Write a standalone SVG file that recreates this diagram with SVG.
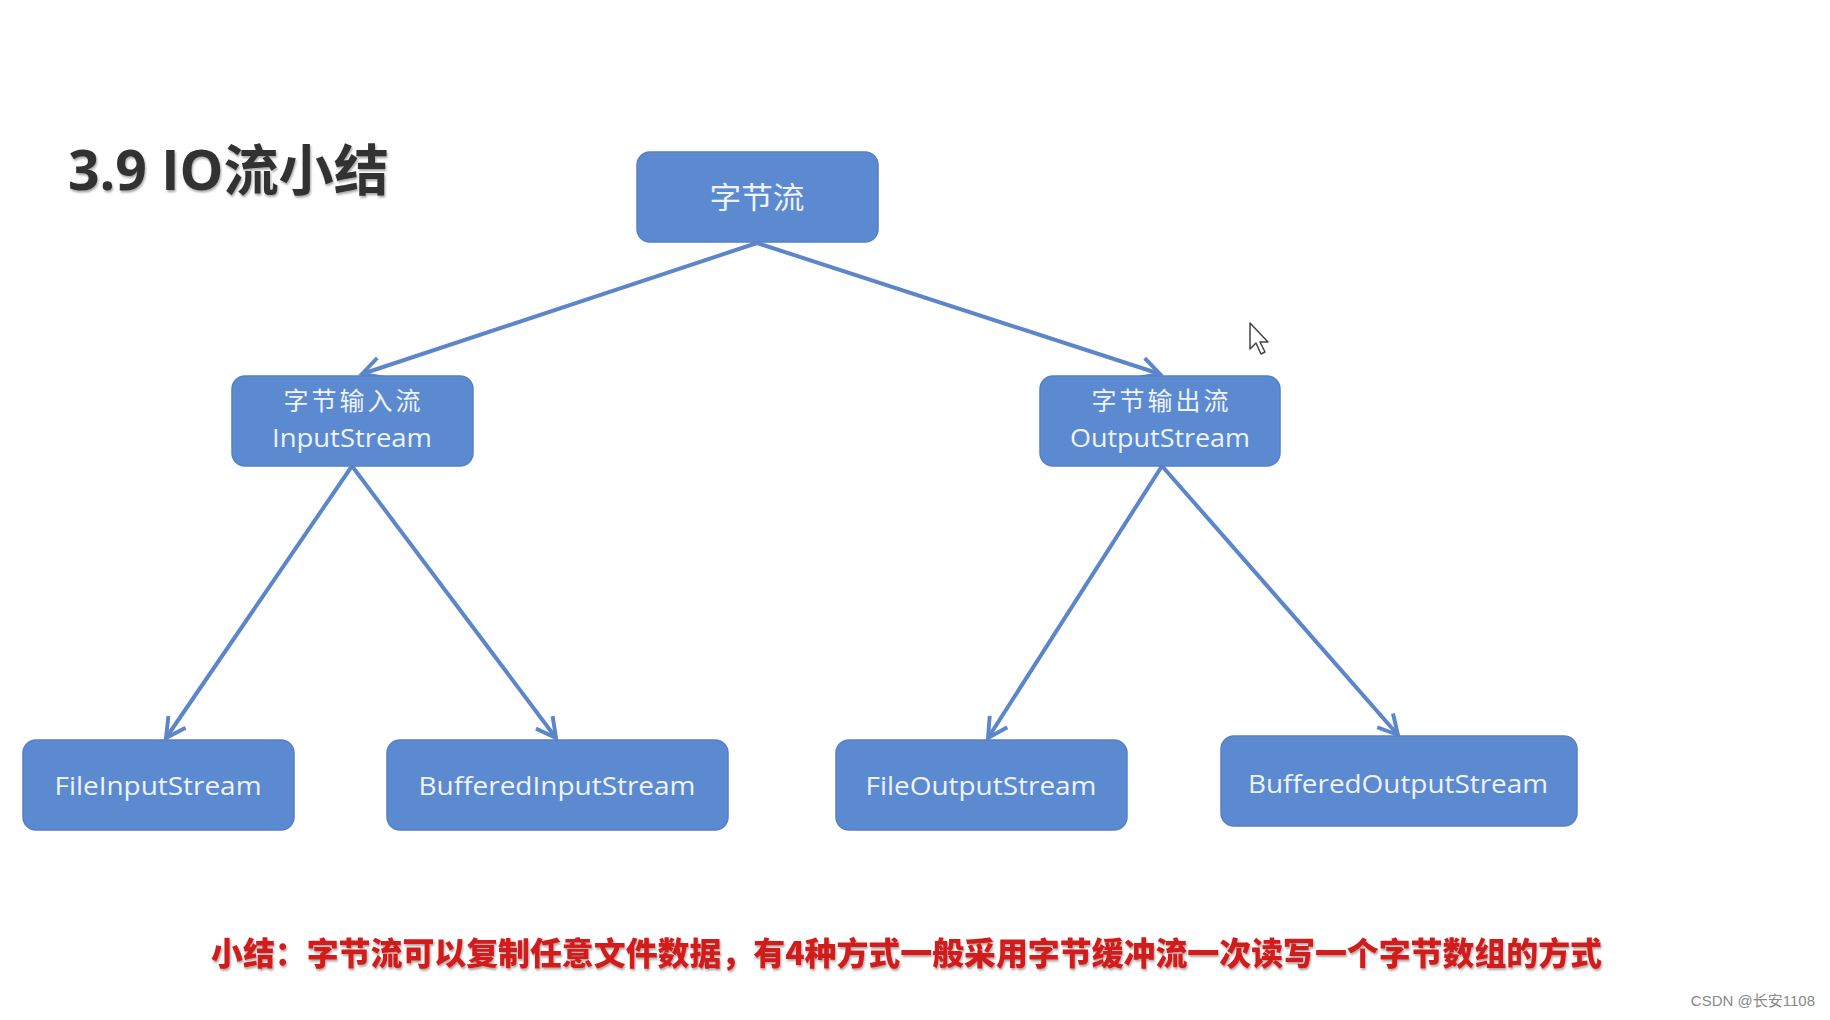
<svg xmlns="http://www.w3.org/2000/svg" width="1830" height="1020" viewBox="0 0 1830 1020">
<defs>
<style>
.node rect{fill:#5b8ad0;stroke:#5580c4;stroke-width:1.5}
.nt{font-family:"Open Sans","Noto Sans CJK SC",sans-serif;fill:#eef3fb;text-anchor:middle}
.cn{font-family:"Noto Sans CJK SC",sans-serif;fill:#eef3fb;text-anchor:middle}
.conn line{stroke:#5b86c9;stroke-width:4;marker-end:url(#arr)}
</style>
<marker id="arr" viewBox="0 0 20 20" refX="17" refY="10" markerWidth="6.5" markerHeight="6.5" orient="auto" markerUnits="strokeWidth">
<path d="M2,2 L17,10 L2,18" fill="none" stroke="#5b86c9" stroke-width="3"/>
</marker>
<filter id="sh" x="-5%" y="-20%" width="110%" height="160%">
<feDropShadow dx="1" dy="2" stdDeviation="1" flood-color="#000" flood-opacity="0.35"/>
</filter>
</defs>
<rect width="1830" height="1020" fill="#ffffff"/>
<text x="68" y="190" font-family="'Open Sans','Noto Sans CJK SC',sans-serif" font-size="55" font-weight="bold" fill="#333333" filter="url(#sh)" textLength="321" lengthAdjust="spacingAndGlyphs">3.9 IO流小结</text>
<g class="conn">
<line x1="757" y1="243" x2="362" y2="374"/>
<line x1="757" y1="243" x2="1160" y2="374"/>
<line x1="352" y1="466" x2="166" y2="738"/>
<line x1="352" y1="466" x2="556" y2="738"/>
<line x1="1162" y1="466" x2="988" y2="738"/>
<line x1="1162" y1="466" x2="1398" y2="735"/>
</g>
<g id="n-root" class="node"><rect x="637" y="152" width="241" height="90" rx="13"/><text class="cn" x="757" y="208" font-size="30" textLength="95" lengthAdjust="spacingAndGlyphs">字节流</text></g>
<g id="n-in" class="node"><rect x="232" y="376" width="241" height="90" rx="13"/><text class="cn" x="352" y="410" font-size="25" textLength="137" lengthAdjust="spacing">字节输入流</text><text class="nt" x="352" y="447" font-size="25" textLength="160" lengthAdjust="spacingAndGlyphs">InputStream</text></g>
<g id="n-out" class="node"><rect x="1040" y="376" width="240" height="90" rx="13"/><text class="cn" x="1160" y="410" font-size="25" textLength="137" lengthAdjust="spacing">字节输出流</text><text class="nt" x="1160" y="447" font-size="25" textLength="180" lengthAdjust="spacingAndGlyphs">OutputStream</text></g>
<g id="n-fis" class="node"><rect x="23" y="740" width="271" height="90" rx="13"/><text class="nt" x="158" y="795" font-size="26" textLength="207" lengthAdjust="spacingAndGlyphs">FileInputStream</text></g>
<g id="n-bis" class="node"><rect x="387" y="740" width="341" height="90" rx="13"/><text class="nt" x="557" y="795" font-size="26" textLength="277" lengthAdjust="spacingAndGlyphs">BufferedInputStream</text></g>
<g id="n-fos" class="node"><rect x="836" y="740" width="291" height="90" rx="13"/><text class="nt" x="981" y="795" font-size="26" textLength="231" lengthAdjust="spacingAndGlyphs">FileOutputStream</text></g>
<g id="n-bos" class="node"><rect x="1221" y="736" width="356" height="90" rx="13"/><text class="nt" x="1398" y="793" font-size="26" textLength="300" lengthAdjust="spacingAndGlyphs">BufferedOutputStream</text></g>
<path d="M1250,323 L1250,349 L1256,343 L1261,354 L1265,352 L1260,342 L1268,342 Z" fill="#ffffff" stroke="#444" stroke-width="1.5" stroke-linejoin="round"/>
<text x="211" y="965" font-family="'Noto Sans CJK SC',sans-serif" font-size="32" font-weight="900" fill="#d21e1e" filter="url(#sh)" textLength="1391" lengthAdjust="spacingAndGlyphs">小结：字节流可以复制任意文件数据，有4种方式一般采用字节缓冲流一次读写一个字节数组的方式</text>
<text x="1815" y="1006" font-family="'Liberation Sans','Noto Sans CJK SC',sans-serif" font-size="15" fill="#888888" text-anchor="end">CSDN @长安1108</text>
</svg>
